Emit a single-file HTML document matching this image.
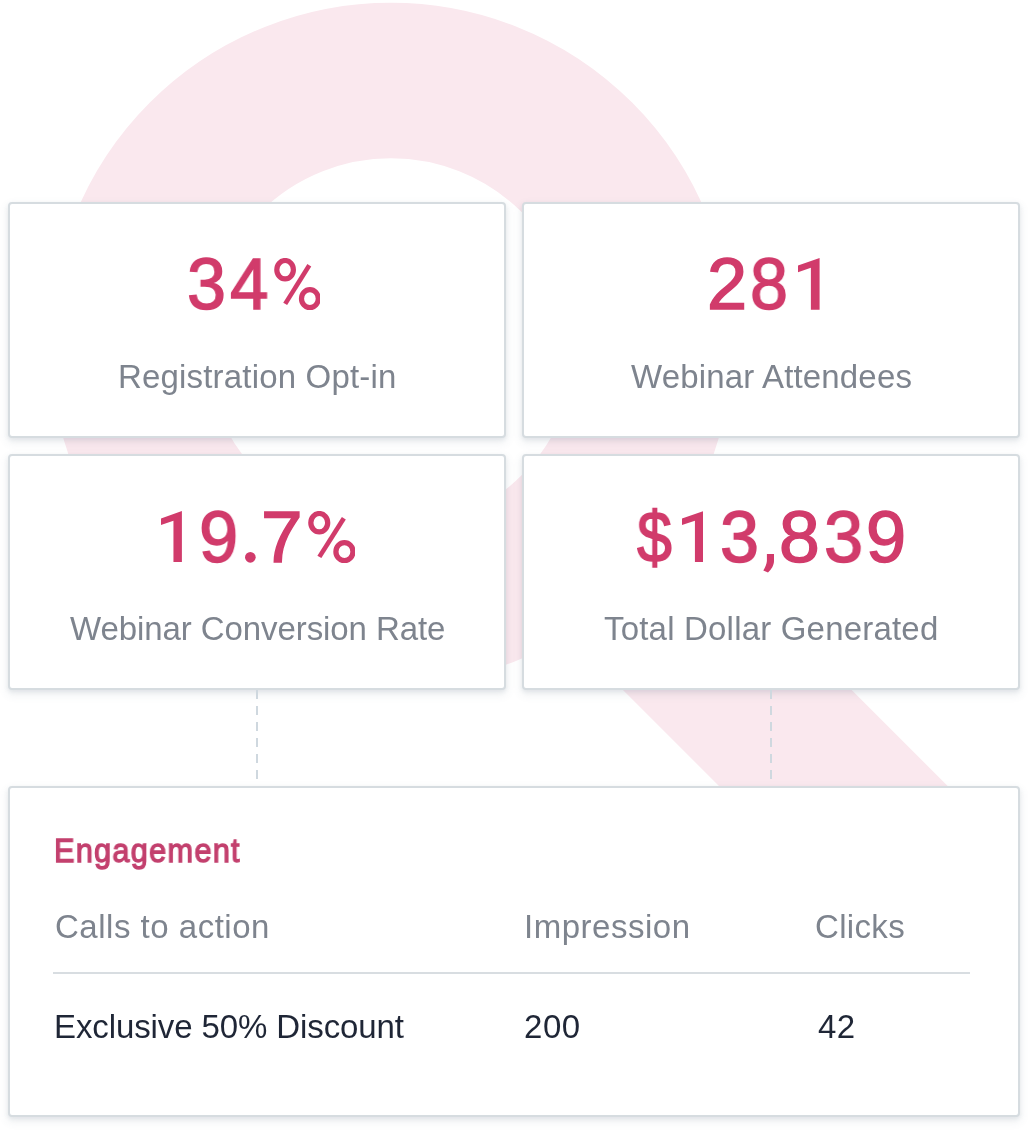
<!DOCTYPE html>
<html>
<head>
<meta charset="utf-8">
<style>
html,body{margin:0;padding:0;background:#fff;}
body{width:1028px;height:1130px;position:relative;overflow:hidden;font-family:"Liberation Sans",sans-serif;}
#bg{position:absolute;left:0;top:0;}
.card{position:absolute;box-sizing:border-box;background:#fff;border:2px solid #d6dce0;border-radius:4px;box-shadow:0 2px 4px rgba(80,100,115,0.10),0 4px 10px 1px rgba(80,105,125,0.09);}
.x{position:absolute;white-space:nowrap;line-height:1;transform-origin:0 0;will-change:transform;}
.num{color:#d13b6b;-webkit-text-stroke:1.5px #d13b6b;}
.lbl{color:#7e848e;}
.dark{color:#1f2636;}
.eng{color:#c3406e;-webkit-text-stroke:1.3px #c3406e;}
.dash{position:absolute;width:2px;background:repeating-linear-gradient(to bottom,#cfd8df 0,#cfd8df 9px,transparent 9px,transparent 16px);}
</style>
</head>
<body>
<svg id="bg" width="1028" height="1130" viewBox="0 0 1028 1130">
  <circle cx="391" cy="343.7" r="263.25" fill="none" stroke="#fae8ee" stroke-width="155.5"/>
  <polygon points="468.2,535.2 582.5,420.9 968.2,806.5 853.8,920.9" fill="#fae8ee"/>
</svg>
<div class="card" style="left:8px;top:202px;width:498px;height:236px;"></div>
<div class="card" style="left:522px;top:202px;width:498px;height:236px;"></div>
<div class="card" style="left:8px;top:454px;width:498px;height:236px;"></div>
<div class="card" style="left:522px;top:454px;width:498px;height:236px;"></div>
<div class="dash" style="left:256px;top:690px;height:96px;"></div>
<div class="dash" style="left:770px;top:690px;height:96px;"></div>
<div class="card" style="left:8px;top:786px;width:1012px;height:331px;"></div>
<div style="position:absolute;left:53px;top:972px;width:917px;height:2px;background:#d8dde1;"></div>
<div class="x num" style="left:187.00px;top:248.00px;font-size:72px;letter-spacing:0px;transform:scaleX(0.9710);">3</div>
<div class="x num" style="left:229.80px;top:248.00px;font-size:72px;letter-spacing:0px;transform:scaleX(0.9589);">4</div>
<div class="x num" style="left:706.60px;top:248.00px;font-size:72px;letter-spacing:0px;transform:scaleX(1.0009);">2</div>
<div class="x num" style="left:750.20px;top:248.00px;font-size:72px;letter-spacing:0px;transform:scaleX(0.9471);">8</div>
<div class="x num" style="left:198.80px;top:501.00px;font-size:72px;letter-spacing:0px;transform:scaleX(0.9770);">9</div>
<div class="x num" style="left:261.00px;top:501.00px;font-size:72px;letter-spacing:0px;transform:scaleX(1.0391);">7</div>
<div class="x num" style="left:637.20px;top:501.00px;font-size:72px;letter-spacing:0px;transform:scaleX(0.8705);">$</div>
<div class="x num" style="left:719.60px;top:501.00px;font-size:72px;letter-spacing:0px;transform:scaleX(0.9731);">3</div>
<div class="x num" style="left:779.00px;top:501.00px;font-size:72px;letter-spacing:0px;transform:scaleX(1.0171);">8</div>
<div class="x num" style="left:824.20px;top:501.00px;font-size:72px;letter-spacing:0px;transform:scaleX(0.9767);">3</div>
<div class="x num" style="left:865.80px;top:501.00px;font-size:72px;letter-spacing:0px;transform:scaleX(1.0009);">9</div>
<div class="x lbl" style="left:117.60px;top:359.80px;font-size:33px;letter-spacing:0.177px;">Registration Opt-in</div>
<div class="x lbl" style="left:630.50px;top:359.80px;font-size:33px;letter-spacing:0.166px;">Webinar Attendees</div>
<div class="x lbl" style="left:70.40px;top:611.95px;font-size:33px;letter-spacing:-0.083px;">Webinar Conversion Rate</div>
<div class="x lbl" style="left:604.10px;top:611.95px;font-size:33px;letter-spacing:0.193px;">Total Dollar Generated</div>
<div class="x eng" style="left:54.00px;top:834.00px;font-size:33px;letter-spacing:1.378px;transform:scaleX(0.9300);">Engagement</div>
<div class="x lbl" style="left:54.50px;top:910.10px;font-size:33px;letter-spacing:0.512px;">Calls to action</div>
<div class="x lbl" style="left:523.60px;top:910.10px;font-size:33px;letter-spacing:0.513px;">Impression</div>
<div class="x lbl" style="left:814.50px;top:910.10px;font-size:33px;letter-spacing:0.34px;">Clicks</div>
<div class="x dark" style="left:53.50px;top:1009.85px;font-size:33px;letter-spacing:-0.105px;">Exclusive 50% Discount</div>
<div class="x dark" style="left:523.50px;top:1009.85px;font-size:33px;letter-spacing:0.55px;">200</div>
<div class="x dark" style="left:818.20px;top:1009.85px;font-size:33px;letter-spacing:0.3px;">42</div>

<svg class="shp" style="position:absolute;left:798px;top:258.2px;" width="21.60" height="51.70" viewBox="0 0 20.8 50.9" preserveAspectRatio="none"><polygon points="0,7.4 20.8,0 20.8,50.9 12.4,50.9 12.4,9.7 0,14.1" fill="#d13b6b"/></svg>
<svg class="shp" style="position:absolute;left:160.9px;top:510.8px;" width="20.90" height="50.90" viewBox="0 0 20.8 50.9" preserveAspectRatio="none"><polygon points="0,7.4 20.8,0 20.8,50.9 12.4,50.9 12.4,9.7 0,14.1" fill="#d13b6b"/></svg>
<svg class="shp" style="position:absolute;left:681.8px;top:510.8px;" width="21.70" height="50.90" viewBox="0 0 20.8 50.9" preserveAspectRatio="none"><polygon points="0,7.4 20.8,0 20.8,50.9 12.4,50.9 12.4,9.7 0,14.1" fill="#d13b6b"/></svg>
<svg class="shp" style="position:absolute;left:274.2px;top:258px;" width="46.30" height="52.20" viewBox="0 0 46.3 52.2" preserveAspectRatio="none"><ellipse cx="11.1" cy="11.7" rx="8.3" ry="9.2" fill="none" stroke="#d13b6b" stroke-width="5.2"/><ellipse cx="35.9" cy="40.7" rx="8.4" ry="9.0" fill="none" stroke="#d13b6b" stroke-width="5.2"/><line x1="35.3" y1="7.3" x2="11.2" y2="45.9" stroke="#d13b6b" stroke-width="4.6"/></svg>
<svg class="shp" style="position:absolute;left:308.4px;top:510.8px;" width="47.00" height="52.20" viewBox="0 0 46.3 52.2" preserveAspectRatio="none"><ellipse cx="11.1" cy="11.7" rx="8.3" ry="9.2" fill="none" stroke="#d13b6b" stroke-width="5.2"/><ellipse cx="35.9" cy="40.7" rx="8.4" ry="9.0" fill="none" stroke="#d13b6b" stroke-width="5.2"/><line x1="35.3" y1="7.3" x2="11.2" y2="45.9" stroke="#d13b6b" stroke-width="4.6"/></svg>
<svg class="shp" style="position:absolute;left:245.2px;top:552.3px;" width="10.70" height="10.70" viewBox="0 0 10.7 10.7" preserveAspectRatio="none"><circle cx="5.35" cy="5.35" r="5.35" fill="#d13b6b"/></svg>
<svg class="shp" style="position:absolute;left:762.9px;top:554px;" width="11.50" height="19.00" viewBox="0 0 11.5 19" preserveAspectRatio="none"><path d="M3.9,0 L11,0 L11,7 C11,11 8.5,15.5 5,18.5 L0.3,16.5 C2.5,13 3.6,10 3.9,7 Z" fill="#d13b6b"/></svg>
</body>
</html>
